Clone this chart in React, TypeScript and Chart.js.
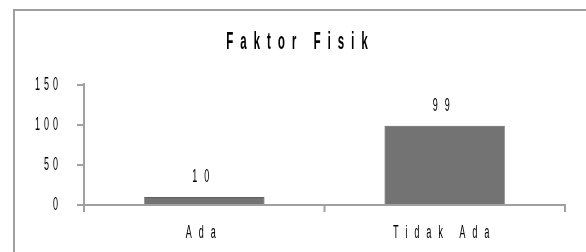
import React, { useEffect, useRef } from 'react';
import { Chart, registerables } from 'chart.js';

Chart.register(...registerables);

// ---- data ----
const categories: string[] = ['Ada', 'Tidak Ada'];
const values: number[] = [10, 99];
const yTicks: number[] = [0, 50, 100, 150];
const chartTitle = 'Faktor Fisik';

// ---- layout (the reference is horizontally compressed) ----
const S = 0.5; // horizontal squeeze
const W = 1142; // internal canvas width (before squeeze)
const H = 241;
const FONT = '"Liberation Sans", Arial, sans-serif';
const AXIS = '#a0a0a0';

function withSpacing(obj: any, key: string, ctx: any, sp: string) {
  if (!obj || obj['__sp_' + key]) return;
  const orig = obj[key].bind(obj);
  obj[key] = (...args: any[]) => {
    ctx.save();
    ctx.letterSpacing = sp;
    orig(...args);
    ctx.restore();
  };
  obj['__sp_' + key] = true;
}

export default function App() {
  const ref = useRef<HTMLCanvasElement | null>(null);

  useEffect(() => {
    if (!ref.current) return;
    const spacing = {
      id: 'spacing',
      afterLayout(c: any) {
        withSpacing(c.titleBlock, 'draw', c.ctx, '14px');
        withSpacing(c.scales.x, 'drawLabels', c.ctx, '14px');
        withSpacing(c.scales.y, 'drawLabels', c.ctx, '8px');
      },
    };
    const valueLabels = {
      id: 'valueLabels',
      afterDatasetsDraw(c: any) {
        const ctx = c.ctx;
        const meta = c.getDatasetMeta(0);
        ctx.save();
        ctx.letterSpacing = '14px';
        ctx.font = `18px ${FONT}`;
        ctx.fillStyle = '#000';
        ctx.textAlign = 'center';
        ctx.textBaseline = 'middle';
        meta.data.forEach((el: any, i: number) => {
          ctx.fillText(String(values[i]), el.x, el.y - 20);
        });
        ctx.restore();
      },
    };

    const chart = new Chart(ref.current, {
      type: 'bar',
      data: {
        labels: categories,
        datasets: [
          {
            data: values,
            backgroundColor: '#737373',
            borderColor: '#5f5f5f',
            borderWidth: 1,
            barPercentage: 0.5,
            categoryPercentage: 1,
          },
        ],
      },
      options: {
        animation: false,
        responsive: false,
        devicePixelRatio: 1,
        layout: { padding: 0 },
        plugins: {
          legend: { display: false },
          tooltip: { enabled: false },
          title: {
            display: true,
            text: chartTitle,
            color: '#000',
            font: { family: FONT, size: 23, weight: 'bold', lineHeight: 1.2 },
            padding: { top: 18.2, bottom: 28.2 },
          },
        },
        scales: {
          x: {
            grid: {
              drawOnChartArea: false,
              drawTicks: true,
              tickLength: 7,
              color: AXIS,
              lineWidth: 4,
              offset: true,
            },
            border: { display: true, color: AXIS, width: 2 },
            ticks: { color: '#000', font: { family: FONT, size: 18 }, padding: 10 },
            afterFit(s: any) {
              s.height = H - 194;
            },
          },
          y: {
            min: 0,
            max: 150,
            afterBuildTicks(s: any) {
              s.ticks = yTicks.map((v) => ({ value: v }));
            },
            grid: {
              drawOnChartArea: false,
              drawTicks: true,
              tickLength: 14,
              color: AXIS,
              lineWidth: 2,
            },
            border: { display: true, color: AXIS, width: 4 },
            ticks: { color: '#000', font: { family: FONT, size: 18 }, padding: 30 },
            afterFit(s: any) {
              s.width = 138;
            },
          },
          y2: {
            position: 'right',
            display: true,
            grid: { display: false },
            border: { display: false },
            ticks: { display: false },
            afterFit(s: any) {
              s.width = 42;
            },
          },
        },
      },
      plugins: [spacing, valueLabels],
    } as any);

    return () => chart.destroy();
  }, []);

  return (
    <div
      style={{
        position: 'fixed',
        left: 13,
        top: 9,
        width: 573,
        height: 243,
        borderTop: `2px solid ${AXIS}`,
        borderLeft: `2px solid ${AXIS}`,
        boxSizing: 'border-box',
        overflow: 'hidden',
        background: '#fff',
      }}
    >
      <div
        style={{
          width: W,
          height: H,
          transform: `scaleX(${S})`,
          transformOrigin: '0 0',
        }}
      >
        <canvas ref={ref} width={W} height={H} style={{ display: 'block' }} />
      </div>
    </div>
  );
}
